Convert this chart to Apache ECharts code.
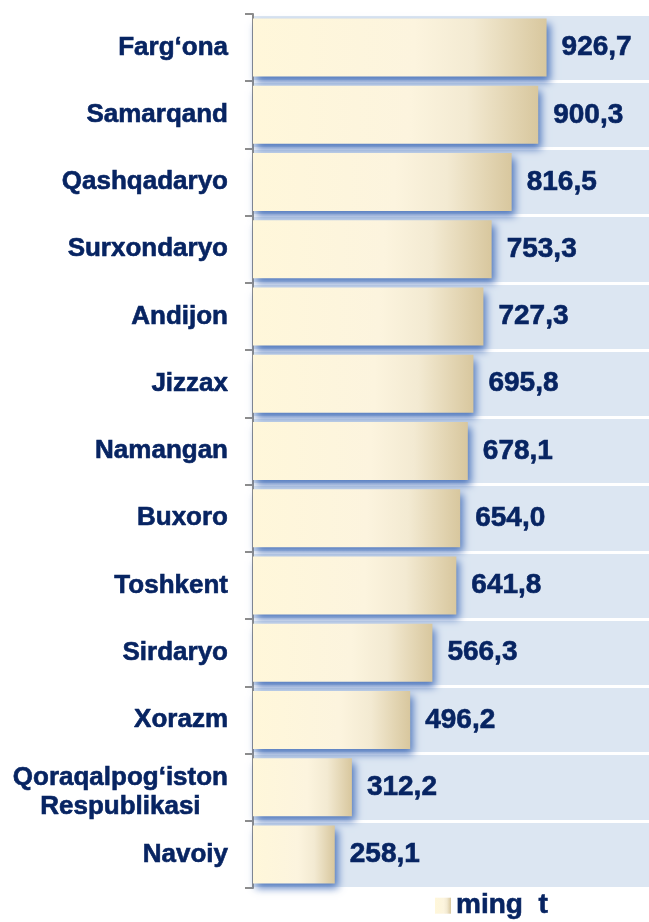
<!DOCTYPE html>
<html lang="uz">
<head>
  <meta charset="UTF-8" />
  <title>ming t</title>
  <style>
    * { padding: 0; margin: 0; }
    html, body { width: 100%; height: 100%; background: #fff; }
    #chart { width: 649px; height: 922px; }
  </style>
</head>
<body>
  <div id="chart"></div>
  <script src="https://cdn.jsdelivr.net/npm/echarts@6/dist/echarts.min.js"></script>
  <script>
    var regions = ['Farg‘ona', 'Samarqand', 'Qashqadaryo', 'Surxondaryo', 'Andijon', 'Jizzax',
      'Namangan', 'Buxoro', 'Toshkent', 'Sirdaryo', 'Xorazm', 'Qoraqalpog‘iston\nRespublikasi', 'Navoiy']
    var values = [926.7, 900.3, 816.5, 753.3, 727.3, 695.8, 678.1, 654.0, 641.8, 566.3, 496.2, 312.2, 258.1]
    var seriesName = 'ming  t'

    var navy = '#072462'
    var font = '"Liberation Sans", Arial, sans-serif'
    var heavy = { fontWeight: 'bold', fontFamily: font, color: navy, textBorderColor: navy, textBorderWidth: 0.6 }

    var chart = echarts.init(document.getElementById('chart'))
    var option = {
      animation: false,
      grid: { left: 253, right: 0, top: 14, bottom: 34 },
      legend: {
        left: 430,
        bottom: -3,
        itemWidth: 16,
        itemHeight: 16,
        itemGap: 6,
        icon: 'rect',
        textStyle: Object.assign({ fontSize: 28 }, heavy),
        data: [seriesName]
      },
      xAxis: {
        type: 'value',
        min: 0,
        max: 1250,
        show: false
      },
      yAxis: {
        type: 'category',
        inverse: true,
        data: regions,
        axisLine: { show: true, lineStyle: { color: '#8c8c8c', width: 2 } },
        axisTick: { show: true, length: 8, lineStyle: { color: '#8c8c8c', width: 2 } },
        splitArea: { show: true, areaStyle: { color: ['#dce6f2'] } },
        splitLine: { show: true, lineStyle: { color: '#ffffff', width: 3 } },
        axisLabel: Object.assign({
          margin: 25,
          fontSize: 26,
          lineHeight: 28,
          formatter: function (v) {
            if (v.indexOf('\n') < 0) return v
            // two-line label: lines centred, block nudged down a little
            var parts = v.split('\n')
            return '{s| }\n{c|' + parts[0] + '}\n{c|' + parts[1] + '}'
          },
          rich: {
            s: { fontSize: 1, lineHeight: 10 },
            c: Object.assign({ align: 'center', fontSize: 26, lineHeight: 29 }, heavy)
          }
        }, heavy)
      },
      series: [{
        name: seriesName,
        type: 'bar',
        barWidth: 58,
        data: values,
        itemStyle: {
          color: new echarts.graphic.LinearGradient(0, 0, 1, 0, [
            { offset: 0, color: '#fff7da' },
            { offset: 0.55, color: '#fcf4de' },
            { offset: 0.75, color: '#f3ead2' },
            { offset: 1, color: '#d8c79e' }
          ]),
          shadowColor: 'rgba(55,100,180,0.85)',
          shadowBlur: 8,
          shadowOffsetX: 3,
          shadowOffsetY: 5
        },
        label: Object.assign({
          show: true,
          position: 'right',
          distance: 15,
          fontSize: 28,
          formatter: function (p) { return p.value.toFixed(1).replace('.', ',') }
        }, heavy)
      }]
    }
    chart.setOption(option)
  </script>
</body>
</html>
